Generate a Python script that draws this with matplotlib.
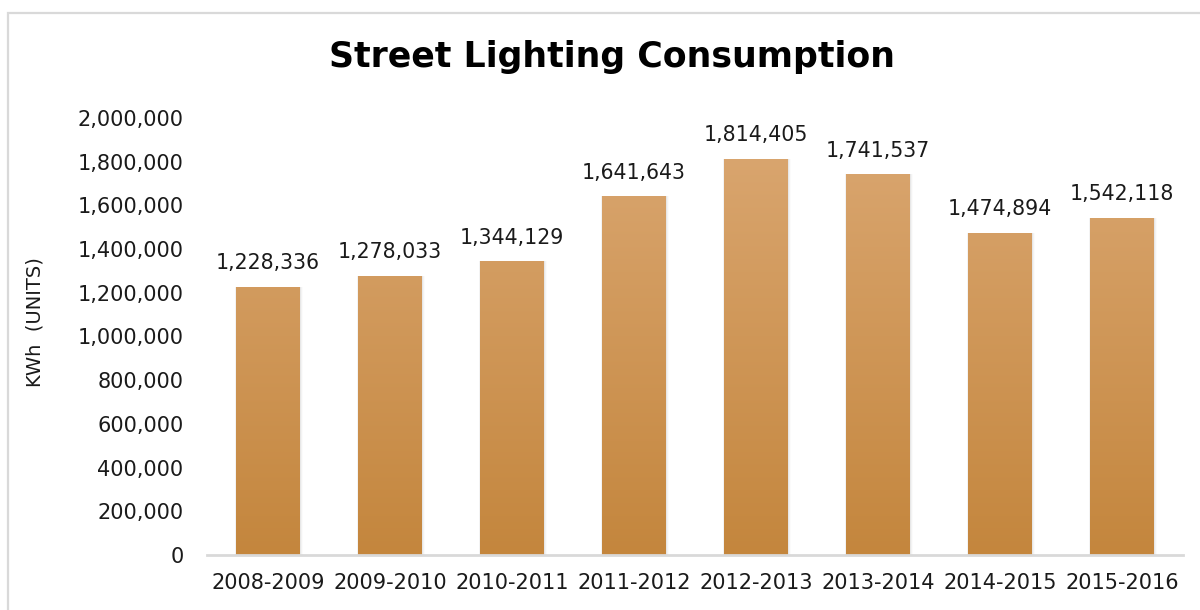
import matplotlib
matplotlib.use("Agg")
import matplotlib.pyplot as plt
import numpy as np
from matplotlib.colors import LinearSegmentedColormap
from matplotlib.patches import Rectangle
from matplotlib.ticker import FuncFormatter

years = ["2008-2009", "2009-2010", "2010-2011", "2011-2012",
         "2012-2013", "2013-2014", "2014-2015", "2015-2016"]
consumption = [1228336, 1278033, 1344129, 1641643,
               1814405, 1741537, 1474894, 1542118]
y_ticks = list(range(0, 2000001, 200000))

plt.rcParams["font.family"] = ["DejaVu Sans"]

fig = plt.figure(figsize=(12, 6.1), dpi=100)
ax = fig.add_axes([0.1725, 0.0902, 0.8133, 0.7164])

x = np.arange(len(years))
bars = ax.bar(x, consumption, width=0.52, color="none", zorder=3)

# vertical orange gradient, lighter at the top
cmap = LinearSegmentedColormap.from_list("amber", ["#C4863D", "#DBA873"])
grad = np.linspace(0, 1, 256).reshape(-1, 1)
for b in bars:
    x0, w, h = b.get_x(), b.get_width(), b.get_height()
    # soft shadow along the sides of the bar
    for k, a in enumerate([0.10, 0.06, 0.03]):
        d = 0.008 * (k + 1)
        ax.add_patch(Rectangle((x0 - d * 0.4, 0), w + d * 1.6, h,
                               facecolor="#808080", alpha=a,
                               edgecolor="none", zorder=2))
    im = ax.imshow(grad, cmap=cmap, aspect="auto", origin="lower",
                   extent=[x0, x0 + w, 0, 2000000], zorder=3,
                   interpolation="bicubic")
    im.set_clip_path(b)

# value labels above the bars
for xi, v in zip(x, consumption):
    ax.annotate(f"{v:,}", (xi, v), xytext=(0, 17), textcoords="offset points",
                ha="center", va="center", fontsize=14.8, color="#1a1a1a",
                annotation_clip=False)

ax.set_xlim(-0.5, len(years) - 0.5)
ax.set_ylim(0, 2000000)
ax.set_xticks(x)
ax.set_xticklabels(years, fontsize=15)
ax.set_yticks(y_ticks)
ax.yaxis.set_major_formatter(FuncFormatter(lambda v, p: f"{int(v):,}"))
ax.tick_params(axis="y", length=0, pad=17, labelsize=15, labelcolor="#1a1a1a")
ax.tick_params(axis="x", length=0, pad=13, labelcolor="#1a1a1a")

for s in ["top", "right", "left"]:
    ax.spines[s].set_visible(False)
ax.spines["bottom"].set_color("#d9d9d9")
ax.spines["bottom"].set_linewidth(2)
ax.spines["bottom"].set_zorder(4)

fig.text(0.029, 0.472, "KWh  (UNITS)", rotation=90, ha="center", va="center",
         fontsize=14, color="#1a1a1a")

fig.text(0.51, 0.907, "Street Lighting Consumption", ha="center", va="center",
         fontsize=25, fontweight="bold", color="#000000")

# outer frame
fig.add_artist(Rectangle((8 / 1200, -0.05), 1.2, (610 - 13) / 610 + 0.05,
                         transform=fig.transFigure, facecolor="none",
                         edgecolor="#d9d9d9", linewidth=1.6))

fig.savefig("out.png", dpi=100)
